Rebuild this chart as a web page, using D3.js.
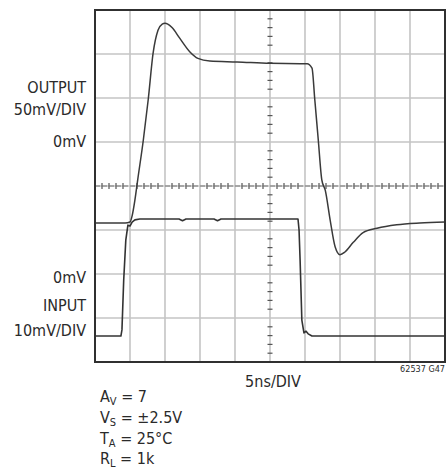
<!DOCTYPE html>
<html>
<head>
<meta charset="utf-8">
<script src="https://cdn.jsdelivr.net/npm/d3@7"></script>
<style>
  html, body { margin: 0; padding: 0; background: #fff; }
  svg { display: block; }
  text { font-family: "DejaVu Sans", sans-serif; font-stretch: condensed; fill: #2a2a2a; }
</style>
</head>
<body>
<svg id="chart" width="448" height="471"></svg>
<script>
// Time axis: 10 divisions of 5 ns
const timeTicks = [0, 5, 10, 15, 20, 25, 30, 35, 40, 45, 50];

// Output trace, 50 mV/DIV (time in ns, level in mV)
const outTime = [0, 2.1, 4.3, 5.0, 5.3, 5.7, 6.1, 6.9, 7.6, 8.3, 9.0, 9.6, 10.0, 10.4, 11.0, 12.1, 13.6, 14.7, 16.4, 20.3, 25.0, 29.3, 30.3, 31.0, 31.4, 31.9, 32.4, 32.9, 33.6, 34.3, 35.0, 35.7, 36.9, 38.3, 40.3, 43.1, 46.4, 50.0];
const outMv   = [-92, -92, -92, -91, -84, -66, -43, 2, 48, 101, 127, 134, 135, 134, 130, 118, 102, 95, 92, 91, 89.5, 89, 89, 84, 48, 2, -43, -55, -89, -119, -128, -125, -114, -103, -98, -94, -92, -91];

// Input trace, 10 mV/DIV (time in ns, level in mV)
const inTime = [0, 3.7, 3.85, 4.1, 4.4, 4.7, 5.0, 5.3, 5.7, 6.4, 12.0, 12.5, 13.0, 17.0, 17.5, 18.0, 29.0, 29.15, 29.3, 29.55, 29.85, 30.15, 30.45, 31.0, 50.0];
const inMv   = [-14.1, -14.1, -12.7, -1.4, 7.7, 11.1, 10.9, 11.8, 12.3, 12.5, 12.5, 12.1, 12.5, 12.5, 12.1, 12.5, 12.5, 10.0, 3.2, -10.5, -13.4, -13.0, -13.6, -14.1, -14.1];

// Vertical scale labels
const sideLabels = ["OUTPUT", "50mV/DIV", "0mV", "0mV", "INPUT", "10mV/DIV"];
const conditions = [["A", "V", " = 7"], ["V", "S", " = ±2.5V"], ["T", "A", " = 25°C"], ["R", "L", " = 1k"]];

const svg = d3.select("#chart");
const L = 95, R = 445, T = 10, B = 362;
const ny = 8;

const x = d3.scaleLinear().domain([0, 50]).range([L, R]);
// vertical divisions, 0 at bottom edge
const div = d3.scaleLinear().domain([0, ny]).range([B, T]);
// output: 0 mV at 5 div; input: 0 mV at 2 div
const yOut = d3.scaleLinear().domain([-250, 150]).range([B, T]);
const yIn = d3.scaleLinear().domain([-20, 60]).range([B, T]);

// graticule
const grid = svg.append("g").attr("stroke", "#c4c4c4").attr("stroke-width", 1.6);
grid.selectAll("line.v").data(timeTicks.slice(1, -1)).join("line")
  .attr("x1", d => x(d)).attr("x2", d => x(d)).attr("y1", T).attr("y2", B);
grid.selectAll("line.h").data(d3.range(1, ny)).join("line")
  .attr("x1", L).attr("x2", R).attr("y1", d => div(d)).attr("y2", d => div(d));

// centre axes with minor ticks
const cx = x(25), cy = div(4);
const minorX = d3.range(0, 50.01, 1).filter(t => t % 5 !== 0);
const minorY = d3.range(0, ny + 0.001, 0.2).filter(v => Math.abs(v - Math.round(v)) > 0.01);
const ticks = svg.append("g").attr("stroke", "#555").attr("stroke-width", 1.2);
ticks.selectAll("line.tx").data(minorX).join("line")
  .attr("x1", d => x(d)).attr("x2", d => x(d)).attr("y1", cy - 3).attr("y2", cy + 3);
ticks.selectAll("line.ty").data(minorY).join("line")
  .attr("x1", cx - 2.5).attr("x2", cx + 2.5).attr("y1", d => div(d)).attr("y2", d => div(d));
svg.append("line").attr("x1", L).attr("x2", R).attr("y1", cy).attr("y2", cy)
  .attr("stroke", "#7a7a7a").attr("stroke-width", 1.1).attr("stroke-dasharray", "5,2");

// traces
const outData = outTime.map((t, i) => [t, outMv[i]]);
const inData = inTime.map((t, i) => [t, inMv[i]]);
svg.append("path").datum(inData)
  .attr("d", d3.line().x(d => x(d[0])).y(d => yIn(d[1])))
  .attr("fill", "none").attr("stroke", "#333").attr("stroke-width", 1.6).attr("stroke-linejoin", "round");
svg.append("path").datum(outData)
  .attr("d", d3.line().curve(d3.curveMonotoneX).x(d => x(d[0])).y(d => yOut(d[1])))
  .attr("fill", "none").attr("stroke", "#3a3a3a").attr("stroke-width", 1.5).attr("stroke-linejoin", "round");

// frame
svg.append("rect").attr("x", L).attr("y", T).attr("width", R - L).attr("height", B - T)
  .attr("fill", "none").attr("stroke", "#303030").attr("stroke-width", 2);

// side labels
const labelY = [93, 115, 147, 283, 311, 336];
svg.selectAll("text.side").data(sideLabels).join("text")
  .attr("class", "side").attr("x", 86).attr("y", (d, i) => labelY[i])
  .attr("text-anchor", "end").attr("font-size", 16).text(d => d);

// bottom labels
svg.append("text").attr("x", 273).attr("y", 387).attr("text-anchor", "middle")
  .attr("font-size", 16).text("5ns/DIV");
svg.append("text").attr("x", 445).attr("y", 372).attr("text-anchor", "end")
  .attr("font-size", 9).text("62537 G47");

// test conditions
const condY = [402, 423, 444, 464];
conditions.forEach((c, i) => {
  const t = svg.append("text").attr("x", 100).attr("y", condY[i]).attr("font-size", 16);
  t.append("tspan").text(c[0]);
  t.append("tspan").attr("font-size", 11).attr("dy", 3).text(c[1]);
  t.append("tspan").attr("dy", -3).text(c[2]);
});
</script>
</body>
</html>
